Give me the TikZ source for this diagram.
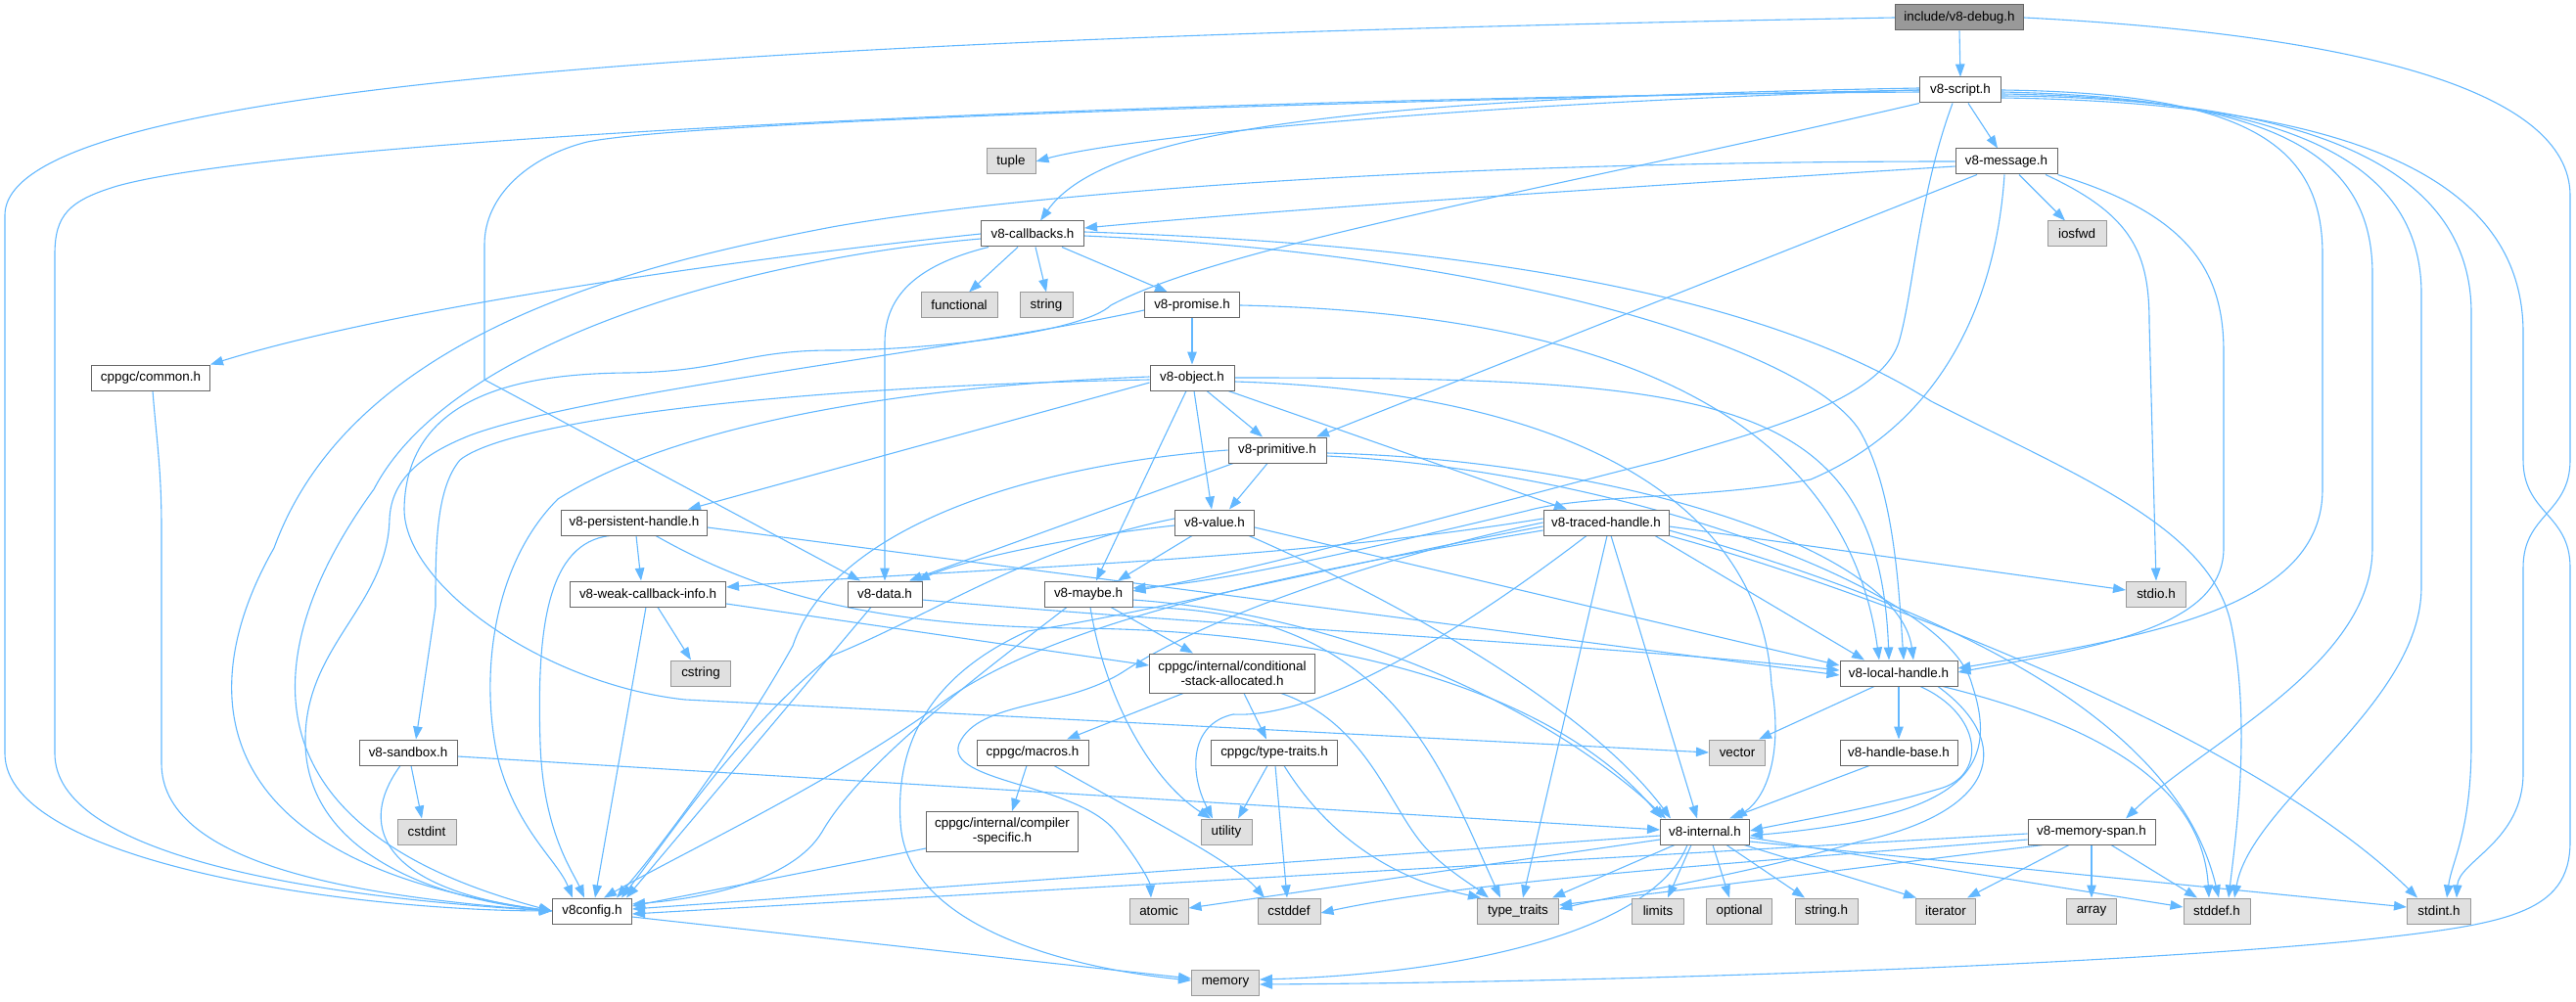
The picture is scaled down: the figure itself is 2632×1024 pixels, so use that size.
\documentclass[tikz,border=0pt]{standalone}
\usepackage{fontspec}
\setmainfont{Liberation Sans}
\usetikzlibrary{arrows.meta,backgrounds}
\definecolor{edgec}{HTML}{63B8FF}
\definecolor{bord}{HTML}{666666}
\definecolor{sysfill}{HTML}{E0E0E0}
\definecolor{sysbord}{HTML}{999999}
\definecolor{rootfill}{HTML}{999999}
\tikzset{
  base/.style={draw, rectangle, minimum height=26pt, inner xsep=2pt, inner ysep=0pt,
    font=\fontsize{13.4}{15}\selectfont, line width=1pt, align=center},
  file/.style={base, draw=bord, fill=white},
  sys/.style={base, draw=sysbord, fill=sysfill},
  root/.style={base, draw=bord, fill=rootfill},
  mw/.style={minimum width=#1},
  e/.style={draw=edgec, line width=1.1pt, -{Triangle[length=13pt,width=9.5pt]}}
}
\begin{document}
\begin{tikzpicture}[x=1pt,y=-1pt]
\useasboundingbox (0,0) rectangle (2632,1024);
% nodes
\node[root,mw=131pt] (debug) at (2002,18) {include/v8-debug.h};
\node[file,mw=83pt] (script) at (2003,92) {v8-script.h};
\node[file,mw=104pt] (message) at (2050,165) {v8-message.h};
\node[sys,mw=60pt] (iosfwd) at (2122,239) {iosfwd};
\node[sys,mw=50pt] (tuple) at (1033,165) {tuple};
\node[file,mw=105pt] (callbacks) at (1055,239) {v8-callbacks.h};
\node[sys,mw=78pt] (functional) at (980,312) {functional};
\node[sys,mw=54pt] (string) at (1069,312) {string};
\node[file,mw=97pt] (promise) at (1218,312) {v8-promise.h};
\node[file,mw=86pt] (object) at (1218,386) {v8-object.h};
\node[file,mw=100pt] (primitive) at (1305,460) {v8-primitive.h};
\node[file,mw=121pt] (common) at (154,386) {cppgc/common.h};
\node[file,mw=149pt] (persistent) at (648,534) {v8-persistent-handle.h};
\node[file,mw=159pt] (weak) at (662,607) {v8-weak-callback-info.h};
\node[sys,mw=61pt] (cstring) at (716,688) {cstring};
\node[file,mw=100pt] (sandbox) at (417,769) {v8-sandbox.h};
\node[sys,mw=60pt] (cstdint) at (436,850) {cstdint};
\node[file,mw=81pt] (v8config) at (605,931) {v8config.h};
\node[file,mw=76pt] (data) at (904,607) {v8-data.h};
\node[file,mw=81pt] (value) at (1241,534) {v8-value.h};
\node[file,mw=128pt] (traced) at (1641,534) {v8-traced-handle.h};
\node[file,mw=90pt] (maybe) at (1112,607) {v8-maybe.h};
\node[file,mw=169pt,minimum height=40pt] (csa) at (1259,688) {cppgc/internal/conditional\\-stack-allocated.h};
\node[file,mw=114pt] (macros) at (1055,769) {cppgc/macros.h};
\node[file,mw=129pt] (typetraits) at (1302,769) {cppgc/type-traits.h};
\node[file,mw=155pt,minimum height=41pt] (compiler) at (1024,850) {cppgc/internal/compiler\\-specific.h};
\node[sys,mw=52pt] (utility) at (1253,850) {utility};
\node[file,mw=91pt] (internal) at (1742,850) {v8-internal.h};
\node[sys,mw=60pt] (atomic) at (1184,931) {atomic};
\node[sys,mw=64pt] (cstddef) at (1317,931) {cstddef};
\node[sys,mw=83pt] (typetraitsstd) at (1551,931) {type\_traits};
\node[sys,mw=53pt] (limits) at (1694,931) {limits};
\node[sys,mw=69pt] (memory) at (1252,1004) {memory};
\node[sys,mw=57pt] (vector) at (1775,769) {vector};
\node[sys,mw=61pt] (stdio) at (2203,607) {stdio.h};
\node[file,mw=120pt] (local) at (1940,688) {v8-local-handle.h};
\node[file,mw=120pt] (handlebase) at (1940,769) {v8-handle-base.h};
\node[file,mw=130pt] (memspan) at (2137,850) {v8-memory-span.h};
\node[sys,mw=67pt] (optional) at (1777,931) {optional};
\node[sys,mw=64pt] (stringh) at (1866,931) {string.h};
\node[sys,mw=61pt] (iterator) at (1988,931) {iterator};
\node[sys,mw=51pt] (array) at (2137,931) {array};
\node[sys,mw=68pt] (stddef) at (2265,931) {stddef.h};
\node[sys,mw=65pt] (stdint) at (2492,931) {stdint.h};

\begin{scope}[on background layer]
% debug
\draw[e] (debug.south) -- (script.north);
\draw[e] (debug.west) .. controls (700,40) and (5,90) .. (5,220) -- (5,770) .. controls (5,880) and (350,930) .. (v8config.west);
\draw[e] (debug.east) .. controls (2400,35) and (2626,90) .. (2626,200) -- (2626,470) .. controls (2626,525) and (2578,525) .. (2578,580) -- (2578,790) .. controls (2578,860) and (2512,880) .. ([xshift=18pt]stdint.north);
% script
\draw[e] ([xshift=8pt]script.south) -- ([xshift=-9pt]message.north);
\draw[e] (script.west) .. controls (1500,105) and (1150,140) .. (tuple.east);
\draw[e] ([yshift=2pt]script.west) .. controls (1400,100) and (1130,130) .. ([xshift=8pt]callbacks.north);
\draw[e] ([yshift=-2pt]script.west) .. controls (1200,100) and (300,140) .. (120,190) .. controls (70,205) and (56,220) .. (56,260) -- (56,770) .. controls (56,870) and (300,915) .. (v8config.west);
\draw[e] (script.west) .. controls (1300,105) and (700,125) .. (600,145) .. controls (540,160) and (495,200) .. (495,250) -- (495,388) -- ([xshift=-25pt]data.north);
\draw[e] (script.south west) .. controls (1600,190) and (1250,250) .. (1135,312) .. controls (1105,340) and (950,358) .. (850,358) .. controls (760,358) and (740,380) .. (640,381) .. controls (540,382) and (415,400) .. (413,520) .. controls (413,600) and (560,700) .. (700,715) -- (vector.west);
\draw[e] (script.east) .. controls (2300,95) and (2373,150) .. (2373,260) -- (2373,500) .. controls (2373,620) and (2200,650) .. ([yshift=5pt]local.east);
\draw[e] ([yshift=-2pt]script.east) .. controls (2330,100) and (2424,160) .. (2424,280) -- (2424,560) .. controls (2424,680) and (2250,760) .. ([xshift=35pt]memspan.north);
\draw[e] ([yshift=-4pt]script.east) .. controls (2350,100) and (2474,170) .. (2474,300) -- (2474,600) .. controls (2474,720) and (2300,820) .. ([xshift=18pt]stddef.north);
\draw[e] ([yshift=-6pt]script.east) .. controls (2380,100) and (2525,180) .. (2525,320) -- (2525,760) .. controls (2525,850) and (2505,880) .. ([xshift=8pt]stdint.north);
\draw[e] ([yshift=-8pt]script.east) .. controls (2420,105) and (2578,190) .. (2578,340) -- (2578,470) .. controls (2578,525) and (2626,525) .. (2626,580) -- (2626,860) .. controls (2626,935) and (2560,945) .. (2400,962) .. controls (2100,990) and (1600,1004) .. ([yshift=-2pt]memory.east);
\draw[e] ([xshift=-8pt]script.south) .. controls (1960,200) and (1955,300) .. (1940,350) .. controls (1920,410) and (1800,440) .. (1700,470) .. controls (1500,520) and (1300,580) .. ([yshift=3pt]maybe.east);
% message
\draw[e] ([xshift=13pt]message.south) -- ([xshift=-12pt]iosfwd.north);
\draw[e] ([xshift=40pt]message.south) .. controls (2180,220) and (2196,260) .. (2196,330) -- (stdio.north);
\draw[e] (message.south east) .. controls (2240,220) and (2272,280) .. (2272,360) -- (2272,560) .. controls (2272,640) and (2150,660) .. ([yshift=1pt]local.east);
\draw[e] ([yshift=-5pt]message.west) .. controls (1600,195) and (1300,215) .. ([yshift=6pt]callbacks.east);
\draw[e] (message.west) .. controls (1400,165) and (1000,205) .. (850,232) .. controls (650,270) and (360,340) .. (280,560) .. controls (200,700) and (200,880) .. (v8config.west);
\draw[e] ([xshift=-30pt]message.south) -- ([xshift=40pt]primitive.north);
\draw[e] ([xshift=-2pt]message.south) .. controls (2040,300) and (1990,430) .. (1850,490) .. controls (1750,510) and (1620,505) .. (1560,522) .. controls (1400,560) and (1250,595) .. ([yshift=6pt]maybe.east);
% callbacks
\draw[e] ([xshift=-15pt]callbacks.south) -- ([xshift=10pt]functional.north);
\draw[e] ([xshift=3pt]callbacks.south) -- (string.north);
\draw[e] ([xshift=30pt]callbacks.south) -- ([xshift=-25pt]promise.north);
\draw[e] (callbacks.west) .. controls (750,265) and (400,315) .. (common.north east);
\draw[e] ([xshift=-45pt]callbacks.south) .. controls (940,270) and (904,300) .. (904,350) -- (data.north);
\draw[e] ([yshift=-5pt]callbacks.west) .. controls (760,265) and (460,350) .. (382,500) .. controls (280,640) and (220,840) .. (v8config.west);
\draw[e] ([yshift=2pt]callbacks.east) .. controls (1500,250) and (1800,300) .. (1973,410) .. controls (2130,490) and (2260,540) .. (2280,640) .. controls (2300,740) and (2285,850) .. ([xshift=12pt]stddef.north);
\draw[e] ([yshift=-2pt]callbacks.east) .. controls (1550,260) and (1850,360) .. (1900,440) .. controls (1935,500) and (1940,600) .. ([xshift=5pt]local.north);
% common
\draw[e] ([xshift=2pt]common.south) .. controls (160,450) and (165,480) .. (165,540) -- (165,780) .. controls (165,880) and (350,915) .. (v8config.west);
% promise
\draw[e] (promise.south) -- (object.north);
\draw[e] (promise.east) .. controls (1550,318) and (1880,380) .. ([xshift=-20pt]local.north);
\draw[e] ([yshift=-5pt]promise.west) .. controls (1000,355) and (600,400) .. (480,445) .. controls (430,465) and (400,490) .. (398,530) .. controls (396,620) and (310,660) .. (312,760) .. controls (314,860) and (420,915) .. (v8config.west);
% object
\draw[e] ([xshift=15pt]object.south) -- ([xshift=-15pt]primitive.north);
\draw[e] ([xshift=2pt]object.south) -- ([xshift=-3pt]value.north);
\draw[e] ([xshift=-6pt]object.south) -- ([xshift=8pt]maybe.north);
\draw[e] ([xshift=37pt]object.south) -- ([xshift=-40pt]traced.north);
\draw[e] ([yshift=-5pt]object.west) -- ([xshift=55pt]persistent.north);
\draw[e] ([yshift=-2pt]object.west) .. controls (800,395) and (520,430) .. (470,470) .. controls (445,500) and (445,560) .. (445,620) -- ([xshift=8pt]sandbox.north);
\draw[e] ([yshift=1pt]object.west) .. controls (900,395) and (680,440) .. (570,510) .. controls (500,580) and (490,700) .. (510,780) .. controls (530,850) and (570,880) .. ([xshift=-20pt]v8config.north);
\draw[e] (object.east) .. controls (1750,386) and (1920,400) .. ([xshift=-10pt]local.north);
\draw[e] ([yshift=-4pt]object.east) .. controls (1600,400) and (1800,510) .. (1810,700) .. controls (1822,770) and (1805,815) .. ([xshift=30pt]internal.north);
% primitive
\draw[e] ([xshift=-10pt]primitive.south) -- ([xshift=15pt]value.north);
\draw[e] ([xshift=-45pt]primitive.south) -- ([xshift=25pt]data.north);
\draw[e] (primitive.west) .. controls (1050,475) and (850,540) .. (810,660) .. controls (760,750) and (680,860) .. ([xshift=25pt]v8config.north);
\draw[e] ([yshift=-3pt]primitive.east) .. controls (1650,470) and (1940,560) .. ([xshift=15pt]local.north);
\draw[e] ([yshift=-6pt]primitive.east) .. controls (1650,480) and (1990,600) .. (2015,700) .. controls (2045,790) and (2000,835) .. ([yshift=-4pt]internal.east);
% value
\draw[e] ([xshift=-23pt]value.south) -- ([xshift=30pt]maybe.north);
\draw[e] ([yshift=-3pt]value.west) .. controls (1100,548) and (990,570) .. ([xshift=33pt]data.north);
\draw[e] ([yshift=4pt]value.west) .. controls (1050,560) and (950,630) .. (850,670) .. controls (760,740) and (680,860) .. ([xshift=30pt]v8config.north);
\draw[e] ([yshift=-5pt]value.east) -- ([yshift=8pt]local.west);
\draw[e] ([xshift=35pt]value.south) .. controls (1420,610) and (1620,720) .. ([xshift=-35pt]internal.north);
% data
\draw[e] ([yshift=-6pt]data.east) .. controls (1250,640) and (1650,660) .. ([yshift=3pt]local.west);
\draw[e] ([xshift=-14pt]data.south) -- ([xshift=35pt]v8config.north);
% persistent
\draw[e] ([xshift=2pt]persistent.south) -- ([xshift=-7pt]weak.north);
\draw[e] ([xshift=-25pt]persistent.south) .. controls (560,555) and (548,640) .. (552,760) .. controls (555,850) and (585,890) .. ([xshift=-8pt]v8config.north);
\draw[e] ([yshift=-5pt]persistent.east) -- ([yshift=-2pt]local.west);
\draw[e] ([xshift=22pt]persistent.south) .. controls (780,610) and (900,640) .. (1100,642) .. controls (1400,645) and (1600,720) .. ([xshift=-44pt]internal.north);
% weak
\draw[e] ([xshift=10pt]weak.south) -- ([xshift=-10pt]cstring.north);
\draw[e] ([xshift=-2pt]weak.south) -- ([xshift=3pt]v8config.north);
\draw[e] ([yshift=-10pt]weak.east) -- ([yshift=8pt]csa.west);
% sandbox
\draw[e] ([xshift=3pt]sandbox.south) -- ([xshift=-5pt]cstdint.north);
\draw[e] ([yshift=-4pt]sandbox.east) -- ([yshift=2pt]internal.west);
\draw[e] ([xshift=-8pt]sandbox.south) .. controls (360,850) and (400,910) .. (v8config.west);
% maybe
\draw[e] ([xshift=23pt]maybe.south) -- ([xshift=-40pt]csa.north);
\draw[e] ([xshift=2pt]maybe.south) .. controls (1130,720) and (1180,800) .. ([xshift=-16pt]utility.north);
\draw[e] ([xshift=-22pt]maybe.south) .. controls (1000,690) and (880,780) .. (840,850) .. controls (810,900) and (720,918) .. ([yshift=7pt]v8config.east);
\draw[e] (maybe.south east) .. controls (1420,620) and (1470,780) .. ([xshift=-18pt]typetraitsstd.north);
\draw[e] ([yshift=-6pt]maybe.east) .. controls (1400,630) and (1600,740) .. ([xshift=-40pt]internal.north);
% traced
\draw[e] ([yshift=-4pt]traced.east) -- ([yshift=4pt]stdio.west);
\draw[e] ([xshift=50pt]traced.south) -- ([xshift=-35pt]local.north);
\draw[e] ([xshift=5pt]traced.south) -- ([xshift=-8pt]internal.north);
\draw[e] ([xshift=1pt]traced.south) -- ([xshift=5pt]typetraitsstd.north);
\draw[e] ([xshift=-20pt]traced.south) .. controls (1500,640) and (1350,735) .. (1260,730) .. controls (1215,740) and (1215,790) .. ([xshift=-14pt]utility.north);
\draw[e] ([yshift=-8pt]traced.east) .. controls (1950,610) and (2220,720) .. ([xshift=2pt]stddef.north);
\draw[e] (traced.south east) .. controls (1900,600) and (2300,750) .. ([xshift=-22pt]stdint.north);
\draw[e] ([yshift=4pt]traced.west) .. controls (1300,575) and (1000,580) .. ([yshift=7pt]weak.east);
\draw[e] (traced.west) .. controls (1450,560) and (1250,620) .. (1150,685) .. controls (1090,725) and (1000,715) .. (980,760) .. controls (965,800) and (1100,800) .. (1140,850) .. controls (1160,875) and (1175,900) .. ([xshift=-8pt]atomic.north);
\draw[e] ([yshift=-4pt]traced.west) .. controls (1400,570) and (1180,625) .. (1050,645) .. controls (950,690) and (915,760) .. (920,840) .. controls (925,950) and (1100,990) .. ([yshift=2pt]memory.west);
\draw[e] ([yshift=-8pt]traced.west) .. controls (1350,580) and (1080,630) .. (960,720) .. controls (850,800) and (700,870) .. ([xshift=12pt]v8config.north);
% csa
\draw[e] ([xshift=-50pt]csa.south) -- ([xshift=35pt]macros.north);
\draw[e] ([xshift=12pt]csa.south) -- ([xshift=-8pt]typetraits.north);
\draw[e] ([xshift=50pt]csa.south) .. controls (1400,740) and (1420,830) .. (1460,870) .. controls (1480,890) and (1505,905) .. ([xshift=-30pt]typetraitsstd.north);
% macros
\draw[e] ([xshift=-6pt]macros.south) -- ([xshift=10pt]compiler.north);
\draw[e] ([xshift=22pt]macros.south) .. controls (1160,830) and (1260,880) .. ([xshift=-25pt]cstddef.north);
% typetraits
\draw[e] ([xshift=-7pt]typetraits.south) -- ([xshift=12pt]utility.north);
\draw[e] ([xshift=1pt]typetraits.south) -- ([xshift=-2pt]cstddef.north);
\draw[e] ([xshift=10pt]typetraits.south) .. controls (1360,860) and (1430,900) .. ([xshift=-38pt]typetraitsstd.north);
% compiler
\draw[e] ([yshift=4pt]compiler.south west) -- ([yshift=5pt]v8config.east);
% internal
\draw[e] ([xshift=8pt]internal.south) -- ([xshift=-10pt]optional.north);
\draw[e] ([xshift=22pt]internal.south) -- ([xshift=-22pt]stringh.north);
\draw[e] ([xshift=40pt]internal.south) -- ([xshift=-30pt]iterator.north);
\draw[e] ([yshift=-6pt]internal.east) -- ([yshift=4pt]stddef.west);
\draw[e] ([yshift=-10pt]internal.east) -- ([yshift=4pt]stdint.west);
\draw[e] ([xshift=-14pt]internal.south) -- ([xshift=10pt]limits.north);
\draw[e] ([xshift=-31pt]internal.south) -- ([xshift=35pt]typetraitsstd.north);
\draw[e] ([xshift=-18pt]internal.south) .. controls (1690,950) and (1500,995) .. ([yshift=3pt]memory.east);
\draw[e] ([yshift=-8pt]internal.west) -- ([yshift=3pt]atomic.east);
\draw[e] ([yshift=-4pt]internal.west) -- ([yshift=2pt]v8config.east);
% memspan
\draw[e] (memspan.south) -- (array.north);
\draw[e] ([xshift=-23pt]memspan.south) -- ([xshift=22pt]iterator.north);
\draw[e] ([xshift=20pt]memspan.south) -- ([xshift=-20pt]stddef.north);
\draw[e] ([yshift=-2pt]memspan.west) -- ([yshift=-3pt]v8config.east);
\draw[e] ([yshift=-8pt]memspan.west) .. controls (1800,880) and (1500,900) .. ([yshift=-2pt]cstddef.east);
\draw[e] ([xshift=16pt]memspan.south west) -- ([yshift=6pt]typetraitsstd.east);
% local
\draw[e] (local.south) -- (handlebase.north);
\draw[e] ([xshift=-25pt]local.south) -- ([xshift=22pt]vector.north);
\draw[e] ([xshift=22pt]local.south) .. controls (2025,730) and (2030,790) .. (1985,805) .. controls (1920,825) and (1830,840) .. ([yshift=1pt]internal.east);
\draw[e] ([xshift=40pt]local.south) .. controls (2060,760) and (2040,830) .. (1900,860) .. controls (1780,895) and (1650,915) .. ([yshift=2pt]typetraitsstd.east);
\draw[e] ([xshift=45pt]local.south) .. controls (2140,740) and (2250,800) .. ([xshift=-8pt]stddef.north);
% handle base
\draw[e] ([xshift=-30pt]handlebase.south) -- ([xshift=25pt]internal.north);
% v8config
\draw[e] ([yshift=-6pt]v8config.east) -- ([yshift=4pt]memory.west);
\end{scope}
\end{tikzpicture}
\end{document}
